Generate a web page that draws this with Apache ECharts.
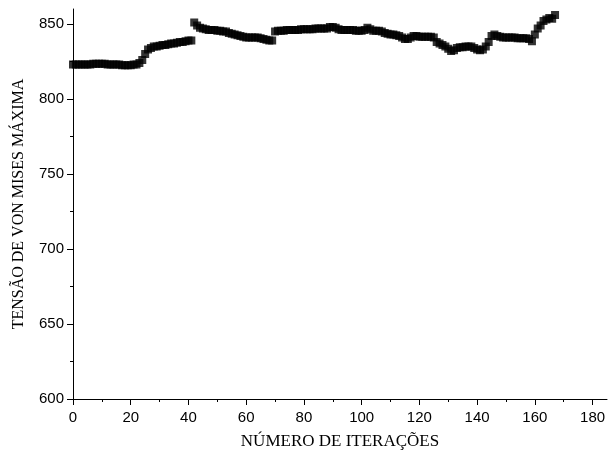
<!DOCTYPE html>
<html>
<head>
<meta charset="utf-8">
<script src="https://cdn.jsdelivr.net/npm/echarts@6/dist/echarts.min.js"></script>
<style>
html,body{margin:0;padding:0;background:#fff;}
#c{width:613px;height:460px;}
</style>
</head>
<body>
<div id="c"></div>
<script>
// Maximum von Mises stress per iteration
const tension = [
  823, 823, 823, 823, 823, 823, 823, 823.5, 823.5, 823.5,
  823.5, 823.5, 823, 823, 823, 823, 823, 822.5, 822.5, 822.5,
  822.5, 823, 823, 824, 826, 830, 833, 834, 835, 835,
  835.5, 836, 836, 836.5, 837, 837, 837.5, 838, 838, 838.5,
  839, 839, 851, 849, 847.5, 847, 846.5, 846, 846, 846,
  845.5, 845.5, 845, 845, 844, 843.5, 843, 842.5, 842, 841.5,
  841, 841, 841, 841, 841, 840.5, 840, 839.5, 839, 839,
  845, 845.5, 845.5, 845.5, 846, 846, 846, 846, 846, 846.5,
  846.5, 846.5, 846.5, 846.5, 847, 847, 847, 847, 847, 848,
  848, 847.5, 846.5, 846, 846, 846, 846, 846, 845.5, 845.5,
  845.5, 846, 847.5, 846.5, 845.5, 845.5, 845.5, 845, 844, 843.5,
  843, 843, 842.5, 842, 841, 840, 840, 841, 842, 842,
  841.5, 841.5, 841.5, 841.5, 841.5, 841, 838, 837, 836, 835,
  833.5, 832, 832.5, 834, 834.5, 834.5, 835, 835, 835, 834,
  833, 832.5, 833, 835, 838, 842, 843, 842, 841.5, 841,
  841, 841, 841, 841, 840.5, 840.5, 840.5, 840.5, 840, 838.5,
  843, 847, 849, 852, 853, 854, 853.5, 856
];
const iterations = tension.map((_, i) => i);
const xMajorTicks = [0, 20, 40, 60, 80, 100, 120, 140, 160, 180];
const xMinorTicks = [10, 30, 50, 70, 90, 110, 130, 150, 170];
const yMajorTicks = [600, 650, 700, 750, 800, 850];
const yMinorTicks = [625, 675, 725, 775, 825];

const points = iterations.map((x, i) => [x, tension[i]]);
const chart = echarts.init(document.getElementById('c'), null, {renderer: 'canvas'});
const labelFont = {fontFamily: 'Liberation Sans, Arial, sans-serif', fontSize: 15, color: '#000'};
const nameFontX = {fontFamily: 'Liberation Serif, Times New Roman, serif', fontSize: 17, color: '#000'};
const nameFontY = {fontFamily: 'Liberation Serif, Times New Roman, serif', fontSize: 16, color: '#000'};
const grid = {left: 73, right: 6, top: 9, bottom: 61, outerBoundsMode: 'none', containLabel: false};
chart.setOption({
  animation: false,
  grid: grid,
  xAxis: [{
    type: 'value', min: 0, max: 185,
    name: 'NÚMERO DE ITERAÇÕES', nameLocation: 'middle', nameGap: 34, nameTextStyle: nameFontX,
    axisLine: {show: true, lineStyle: {color: '#000', width: 1}},
    axisTick: {show: true, inside: false, length: 6, customValues: xMajorTicks, lineStyle: {color: '#000'}},
    axisLabel: {customValues: xMajorTicks, margin: 11, ...labelFont},
    splitLine: {show: false}
  }, {
    type: 'value', min: 0, max: 185, position: 'bottom',
    axisLine: {show: false},
    axisTick: {show: true, length: 3, customValues: xMinorTicks, lineStyle: {color: '#000'}},
    axisLabel: {show: false},
    splitLine: {show: false}
  }],
  yAxis: [{
    type: 'value', min: 600, max: 860,
    name: 'TENSÃO DE VON MISES MÁXIMA', nameLocation: 'middle', nameGap: 46, nameTextStyle: nameFontY,
    axisLine: {show: true, lineStyle: {color: '#000', width: 1}},
    axisTick: {show: true, inside: false, length: 6, customValues: yMajorTicks, lineStyle: {color: '#000'}},
    axisLabel: {customValues: yMajorTicks, margin: 9, ...labelFont},
    splitLine: {show: false}
  }, {
    type: 'value', min: 600, max: 860, position: 'left',
    axisLine: {show: false},
    axisTick: {show: true, length: 3, customValues: yMinorTicks, lineStyle: {color: '#000'}},
    axisLabel: {show: false},
    splitLine: {show: false}
  }],
  series: [{
    type: 'scatter',
    data: points,
    symbol: 'rect',
    symbolSize: 8,
    itemStyle: {color: '#000'},
    clip: false
  }]
});
</script>
</body>
</html>
